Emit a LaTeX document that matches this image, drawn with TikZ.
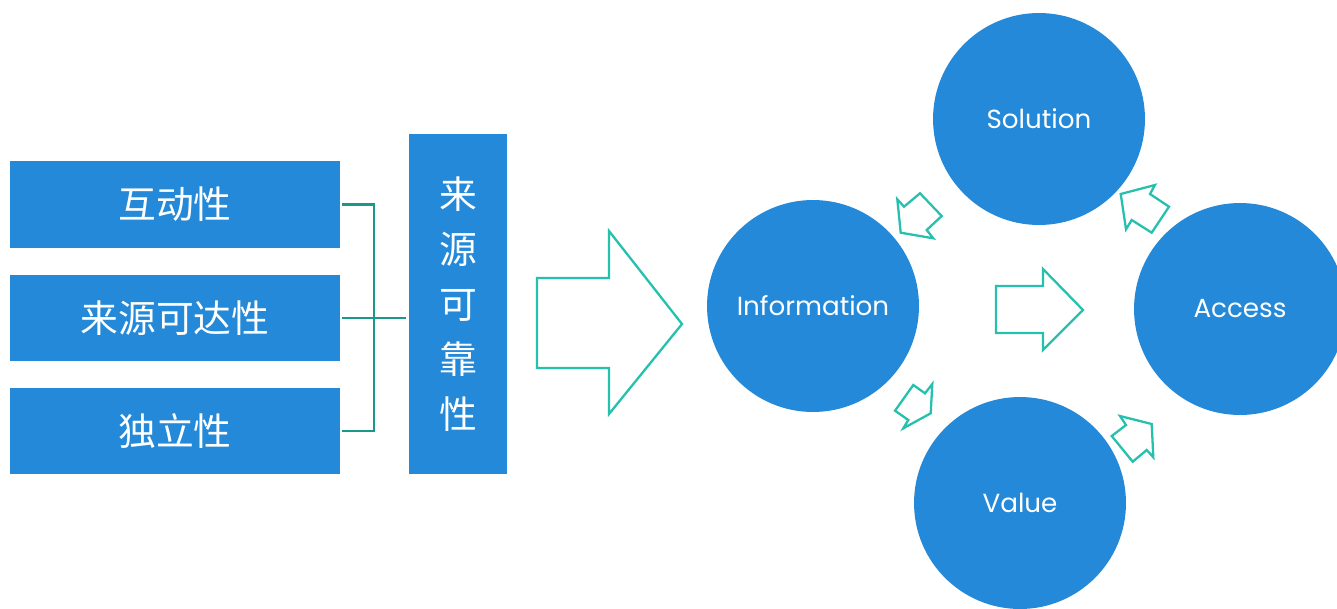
\documentclass[tikz,border=0pt]{standalone}
\usepackage{fontspec}
\setmainfont{Poppins}
\newfontfamily\cjk{Noto Sans CJK SC}
\definecolor{boxblue}{RGB}{35,137,216}
\definecolor{arrowteal}{RGB}{38,192,174}
\definecolor{linkteal}{RGB}{26,152,136}

\begin{document}
\begin{tikzpicture}[x=0.02cm,y=-0.02cm,
		box/.style={fill=boxblue,text=white,inner sep=0pt,minimum width=6.6cm,minimum height=1.74cm,font=\cjk\fontsize{21.5}{24}\selectfont},
		ball/.style={circle,fill=boxblue,text=white,inner sep=0pt,minimum size=4.24cm,font=\fontsize{14.9}{16}\selectfont},
		blockarrow/.style={draw=arrowteal,line width=1.3pt,line join=miter,fill=white}]
		\useasboundingbox (0,0) rectangle (1337,608);
		\clip (0,0) rectangle (1337,608);

		% left column
		\node[box] (hudong) at (175,204.5) {互动性};
		\node[box] (kedaxing) at (175,318) {来源可达性};
		\node[box] (duli) at (175,431) {独立性};
		\node[box,minimum width=1.96cm,minimum height=6.8cm,align=center,font=\cjk\fontsize{21.5}{31.3}\selectfont] (kekao) at (458,304) {来\\源\\可\\靠\\性};

		\coordinate (brk) at (374,318);
		\draw[linkteal,line width=1.2pt] ([xshift=0.04cm]hudong.east) -| (brk) |- ([xshift=0.04cm]duli.east);
		\draw[linkteal,line width=1.2pt] ([xshift=0.04cm]kedaxing.east) -- ([xshift=-0.06cm]kedaxing.east -| kekao.west);

		% big arrow
		\draw[blockarrow] (537,278) -- (609,278) -- (609,231) -- (682,324) -- (609,414) -- (609,368) -- (537,368) -- cycle;

		% circles
		\node[ball] (info) at (813,306) {Information};
		\node[ball] (solution) at (1039,119) {Solution};
		\node[ball] (access) at (1240,309) {Access};
		\node[ball] (value) at (1020,503) {Value};

		% small arrows
		\draw[blockarrow] (996,286) -- (1043,286) -- (1043,269) -- (1083,310) -- (1043,350) -- (1043,333) -- (996,333) -- cycle;
		\draw[blockarrow] (897.3,199.3) -- (904,206.7) -- (920,193.3) -- (941.7,216) -- (926.7,230) -- (933.3,238.3) -- (900.7,232.7) -- cycle;
		\draw[blockarrow] (1120.7,194) -- (1155,185) -- (1150,194) -- (1169,206.7) -- (1151.7,232.7) -- (1131.7,220) -- (1126,229.3) -- cycle;
		\draw[blockarrow] (913.3,385) -- (925,393.3) -- (932.3,384) -- (930.7,413.3) -- (903.3,428.3) -- (908.3,420) -- (895,410.7) -- cycle;
		\draw[blockarrow] (1120,416) -- (1151.7,424) -- (1153.3,457.3) -- (1146.7,450) -- (1132.7,461.7) -- (1111.7,436) -- (1126,425) -- cycle;
	\end{tikzpicture}
\end{document}
